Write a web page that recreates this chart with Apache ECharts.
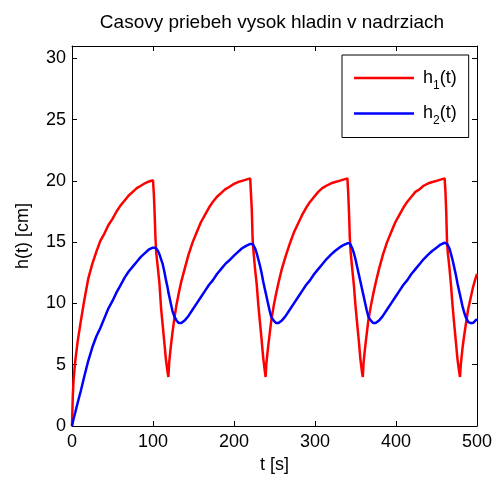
<!DOCTYPE html>
<html>
<head>
<meta charset="utf-8">
<script src="https://cdn.jsdelivr.net/npm/echarts@6/dist/echarts.min.js"></script>
<style>
  html, body { margin: 0; padding: 0; background: #fff; }
  #chart { width: 498px; height: 480px; }
</style>
</head>
<body>
<div id="chart"></div>
<script>
// cas [s]
var time = [
  0, 1, 2, 4, 7, 11, 15, 20, 25, 30, 35, 40, 45, 50, 55, 60, 65, 70, 75, 80, 85, 90, 95, 100,
  101, 102, 103, 104, 106, 108, 110, 112, 114, 116, 118,
  119, 120, 122, 124, 126, 129, 132, 135, 139, 144, 149, 154, 159, 164, 169, 174, 179, 184, 189, 194, 200, 205, 210, 215, 220,
  221, 222, 223, 224, 226, 228, 230, 232, 234, 236, 238,
  239, 240, 242, 244, 246, 249, 252, 255, 259, 264, 269, 274, 279, 284, 289, 294, 299, 304, 309, 314, 320, 325, 330, 335, 340,
  341, 342, 343, 344, 346, 348, 350, 352, 354, 356, 358,
  359, 360, 362, 364, 366, 369, 372, 375, 379, 384, 389, 394, 399, 404, 409, 414, 419, 424, 429, 434, 440, 445, 450, 455, 460,
  461, 462, 463, 464, 466, 468, 470, 472, 474, 476, 478,
  479, 480, 482, 484, 486, 489, 492, 495, 498, 500
];

// h1(t) [cm]
var h1 = [
  0, 2.5, 3.8, 5.3, 6.9, 8.6, 10.2, 12.0, 13.2, 14.2, 15.1, 15.7, 16.4, 16.9, 17.5, 18.0, 18.4, 18.8, 19.1, 19.4, 19.6, 19.8, 19.95, 20.05,
  19.0, 17.4, 15.4, 14.1, 12.9, 11.6, 9.6, 8.2, 6.8, 5.4, 4.4,
  4.0, 5.2, 6.5, 7.6, 8.6, 9.9, 10.9, 11.8, 12.8, 14.0, 15.0, 15.8, 16.6, 17.2, 17.8, 18.3, 18.7, 19.0, 19.3, 19.5, 19.75, 19.9, 20.0, 20.1, 20.2,
  18.9, 17.6, 15.2, 14.3, 12.8, 11.6, 9.9, 8.5, 7.1, 5.6, 4.5,
  4.0, 5.1, 6.4, 7.5, 8.6, 9.8, 10.8, 11.7, 12.8, 13.9, 14.9, 15.8, 16.5, 17.2, 17.8, 18.3, 18.7, 19.1, 19.4, 19.6, 19.8, 19.9, 20.0, 20.1, 20.2,
  19.0, 17.4, 15.3, 14.2, 12.8, 11.5, 9.8, 8.4, 7.0, 5.5, 4.4,
  4.0, 5.2, 6.5, 7.6, 8.7, 9.8, 10.8, 11.7, 12.8, 14.0, 15.0, 15.8, 16.6, 17.2, 17.8, 18.3, 18.7, 19.1, 19.3, 19.6, 19.8, 19.9, 20.0, 20.1, 20.2,
  19.2, 17.5, 15.0, 14.1, 12.9, 11.4, 9.7, 8.2, 6.8, 5.4, 4.4,
  4.0, 5.0, 6.3, 7.3, 8.2, 9.5, 10.4, 11.3, 12.0, 12.4
];

// h2(t) [cm]
var h2 = [
  0, 0.3, 0.6, 1.1, 1.9, 2.9, 4.0, 5.3, 6.4, 7.3, 8.0, 8.8, 9.6, 10.2, 10.9, 11.5, 12.1, 12.6, 13.0, 13.4, 13.8, 14.1, 14.4, 14.55,
  14.6, 14.6, 14.55, 14.5, 14.3, 14.0, 13.6, 13.2, 12.6, 11.9, 11.3,
  10.9, 10.6, 10.0, 9.4, 9.0, 8.6, 8.4, 8.4, 8.6, 9.0, 9.5, 10.0, 10.5, 11.0, 11.5, 11.9, 12.4, 12.8, 13.2, 13.5, 13.9, 14.2, 14.5, 14.7, 14.85,
  14.9, 14.9, 14.85, 14.75, 14.5, 14.1, 13.6, 13.1, 12.5, 11.8, 11.2,
  10.9, 10.6, 10.0, 9.4, 8.9, 8.6, 8.4, 8.4, 8.6, 9.0, 9.5, 10.0, 10.5, 11.0, 11.5, 11.9, 12.4, 12.8, 13.2, 13.6, 14.0, 14.3, 14.55, 14.75, 14.9,
  14.95, 14.95, 14.9, 14.8, 14.5, 14.1, 13.6, 13.0, 12.4, 11.8, 11.2,
  10.9, 10.6, 10.0, 9.4, 8.9, 8.6, 8.4, 8.4, 8.6, 9.0, 9.5, 10.0, 10.5, 11.0, 11.5, 11.9, 12.4, 12.8, 13.2, 13.6, 14.0, 14.3, 14.55, 14.8, 14.95,
  14.95, 14.9, 14.85, 14.75, 14.5, 14.0, 13.5, 12.9, 12.3, 11.6, 11.0,
  10.7, 10.4, 9.8, 9.3, 8.9, 8.5, 8.4, 8.4, 8.6, 8.7
];

var xTicks = [0, 100, 200, 300, 400, 500];
var yTicks = [0, 5, 10, 15, 20, 25, 30];

var font = 'Liberation Sans, Arial, sans-serif';

function pairs(ys) {
  return time.map(function (t, i) { return [t, ys[i]]; });
}

var myChart = echarts.init(document.getElementById('chart'));

// spolocny styl osi (ramcek ako v matlabe)
function axisBase(extra) {
  var a = {
    type: 'value',
    axisLine: { show: true, onZero: false, lineStyle: { color: '#000', width: 1 } },
    axisTick: { show: true, inside: true, length: 5, lineStyle: { color: '#000' } },
    splitLine: { show: false }
  };
  for (var k in extra) a[k] = extra[k];
  return a;
}

var option = {
  animation: false,
  backgroundColor: '#fff',
  title: {
    text: 'Casovy priebeh vysok hladin v nadrziach',
    left: 267,
    textAlign: 'center',
    top: 8,
    textStyle: { fontFamily: font, fontSize: 19, fontWeight: 'normal', color: '#000' }
  },
  legend: {
    orient: 'vertical',
    left: 342,
    top: 55,
    padding: [14, 12, 10.5, 12],
    itemGap: 13,
    itemWidth: 60,
    itemHeight: 2.5,
    icon: 'rect',
    borderColor: '#000',
    borderWidth: 1,
    backgroundColor: '#fff',
    data: ['h1', 'h2'],
    formatter: function (name) {
      return '{f|h}{s|' + name.slice(1) + '}{n|(t)}';
    },
    textStyle: {
      color: '#000',
      rich: {
        f: { fontFamily: font, fontSize: 18, lineHeight: 27, color: '#000', verticalAlign: 'middle', padding: [0, 0, 0, 4] },
        n: { fontFamily: font, fontSize: 18, lineHeight: 27, color: '#000', verticalAlign: 'middle' },
        s: { fontFamily: font, fontSize: 12, lineHeight: 16, color: '#000', verticalAlign: 'bottom' }
      }
    }
  },
  grid: { left: 72, right: 21, top: 46, bottom: 54, containLabel: false },
  xAxis: [
    axisBase({
      min: 0, max: 500, interval: 100,
      name: 't [s]', nameLocation: 'middle', nameGap: 30,
      nameTextStyle: { fontFamily: font, fontSize: 18, color: '#000' },
      axisLabel: {
        fontFamily: font, fontSize: 18, color: '#000', margin: 7,
        formatter: function (v) { return xTicks.indexOf(v) >= 0 ? String(v) : ''; }
      }
    }),
    axisBase({ min: 0, max: 500, interval: 100, position: 'top', axisLabel: { show: false } })
  ],
  yAxis: [
    axisBase({
      min: 0, max: 31, interval: 5,
      name: 'h(t) [cm]', nameLocation: 'middle', nameGap: 40,
      nameTextStyle: { fontFamily: font, fontSize: 18, color: '#000' },
      axisLabel: {
        fontFamily: font, fontSize: 18, color: '#000', margin: 6,
        formatter: function (v) { return yTicks.indexOf(v) >= 0 ? String(v) : ''; }
      }
    }),
    axisBase({ min: 0, max: 31, interval: 5, position: 'right', axisLabel: { show: false } })
  ],
  series: [
    {
      name: 'h1',
      type: 'line',
      showSymbol: false,
      symbol: 'none',
      data: pairs(h1),
      lineStyle: { color: '#ff0000', width: 2.5 },
      itemStyle: { color: '#ff0000' }
    },
    {
      name: 'h2',
      type: 'line',
      showSymbol: false,
      symbol: 'none',
      data: pairs(h2),
      lineStyle: { color: '#0000ff', width: 2.5 },
      itemStyle: { color: '#0000ff' }
    }
  ]
};

myChart.setOption(option);
</script>
</body>
</html>
